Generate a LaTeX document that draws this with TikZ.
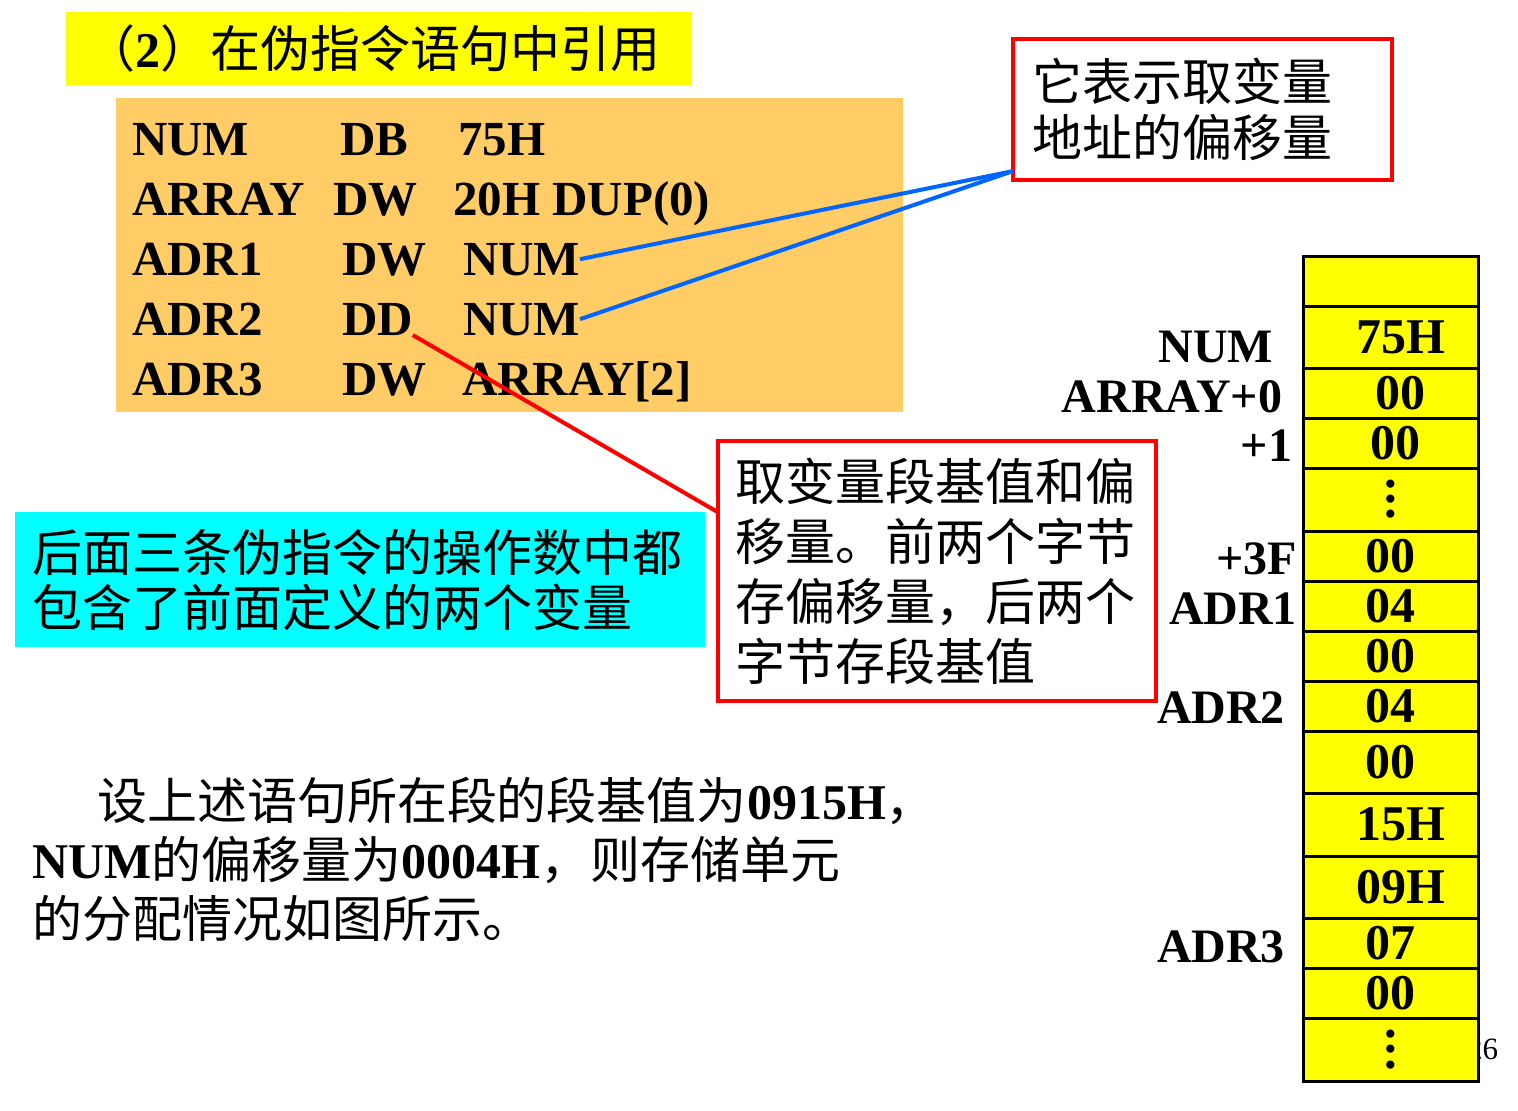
\documentclass[tikz,border=0pt]{standalone}
\usepackage{fontspec}
\usepackage{graphicx}
\setmainfont{Liberation Serif}
\newfontfamily\cjk{Noto Sans CJK SC}
\usetikzlibrary{positioning}

\definecolor{hiyellow}{RGB}{255,255,0}
\definecolor{codeorange}{RGB}{255,204,102}
\definecolor{hintcyan}{RGB}{0,255,255}
\definecolor{linkblue}{RGB}{0,102,255}

\newcommand\lat[1]{{\rmfamily\bfseries #1}}
\newcommand\celldots{\scalebox{3.6}{\fontsize{14}{14}\selectfont
    \vbox{\baselineskip4.2pt\lineskiplimit-5pt\hbox{.}\hbox{.}\hbox{.}}}}

\begin{document}
\begin{tikzpicture}[x=1pt,y=-1pt,
                    every node/.style={inner sep=0pt,outer sep=0pt},
                    code/.style={anchor=base west,font=\fontsize{49}{49}\selectfont\bfseries},
                    addr/.style={anchor=base east,font=\fontsize{48}{48}\selectfont\bfseries},
                    cell/.style={draw,line width=3pt,fill=hiyellow,minimum width=175pt,
                                 font=\fontsize{50}{50}\selectfont\bfseries},
                    note/.style={draw=red,line width=4pt,align=left},
                    link/.style={line width=4pt,linkblue}]

    \useasboundingbox (0,0) rectangle (1518,1111);

    % heading
    \node[fill=hiyellow,minimum height=73pt,text width=588pt,inner xsep=19pt,align=left,
          font=\cjk\fontsize{50}{50}\selectfont] (title) at (379,48.5) {（\lat{2}）在伪指令语句中引用};

    % source lines
    \node[fill=codeorange,anchor=north west,minimum width=787pt,minimum height=314pt] (codebox) at (116,98) {};
    \node[code] (lbl1) at (132,155) {NUM};
    \node[code] (op1)  at (340,155) {DB};
    \node[code] (arg1) at (458,155) {75H};
    \node[code] (lbl2) at (132,215) {ARRAY};
    \node[code] (op2)  at (333,215) {DW};
    \node[code] (arg2) at (453,215) {20H DUP(0)};
    \node[code] (lbl3) at (132,275) {ADR1};
    \node[code] (op3)  at (342,275) {DW};
    \node[code] (arg3) at (463,275) {NUM};
    \node[code] (lbl4) at (132,335) {ADR2};
    \node[code] (op4)  at (342,335) {DD};
    \node[code] (arg4) at (463,335) {NUM};
    \node[code] (lbl5) at (132,395) {ADR3};
    \node[code] (op5)  at (342,395) {DW};
    \node[code] (arg5) at (462,395) {ARRAY[2]};

    % remarks
    \node[fill=hintcyan,minimum height=135pt,text width=656pt,inner xsep=17pt,align=left,
          font=\cjk\fontsize{50}{55}\selectfont] (hint) at (360,579.5)
          {后面三条伪指令的操作数中都\\包含了前面定义的两个变量};
    \node[note,minimum height=141pt,text width=341pt,inner xsep=19pt,
          font=\cjk\fontsize{50}{56}\selectfont] (offs) at (1202.5,109.5)
          {它表示取变量\\地址的偏移量};
    \node[note,minimum height=260pt,text width=404pt,inner xsep=17pt,
          font=\cjk\fontsize{50}{60}\selectfont] (seg) at (937,571)
          {取变量段基值和偏\\移量。前两个字节\\存偏移量，后两个\\字节存段基值};
    \node[anchor=west,align=left,font=\cjk\fontsize{50}{59}\selectfont] (desc) at (32,859)
          {\hspace*{65pt}设上述语句所在段的段基值为\lat{0915H}，\\
           \lat{NUM}的偏移量为\lat{0004H}，则存储单元\\
           的分配情况如图所示。};

    \node[anchor=base east,font=\fontsize{31}{31}\selectfont] (pgno) at (1498,1059) {26};

    % memory
    \node[cell,anchor=north west,minimum height=50pt] (m0) at (1303,256) {};
    \node[cell,minimum height=62pt,below=0pt of m0]  (m1)  {\hspace{20pt}75H};
    \node[cell,minimum height=50pt,below=0pt of m1]  (m2)  {\hspace{20pt}00};
    \node[cell,minimum height=50pt,below=0pt of m2]  (m3)  {\hspace{10pt}00};
    \node[cell,minimum height=63pt,below=0pt of m3]  (m4)  {\celldots\hspace{10pt}};
    \node[cell,minimum height=50pt,below=0pt of m4]  (m5)  {00};
    \node[cell,minimum height=50pt,below=0pt of m5]  (m6)  {04};
    \node[cell,minimum height=50pt,below=0pt of m6]  (m7)  {00};
    \node[cell,minimum height=50pt,below=0pt of m7]  (m8)  {04};
    \node[cell,minimum height=62pt,below=0pt of m8]  (m9)  {00};
    \node[cell,minimum height=63pt,below=0pt of m9]  (m10) {\hspace{20pt}15H};
    \node[cell,minimum height=62pt,below=0pt of m10] (m11) {\hspace{20pt}09H};
    \node[cell,minimum height=50pt,below=0pt of m11] (m12) {07};
    \node[cell,minimum height=50pt,below=0pt of m12] (m13) {00};
    \node[cell,minimum height=63pt,below=0pt of m13] (m14) {\celldots\hspace{6pt}};

    \node[addr] (aNUM)  at (1273,362) {NUM};
    \node[addr] (aARR)  at (1282,412) {ARRAY+0};
    \node[addr] (aP1)   at (1292,461) {+1};
    \node[addr] (aP3F)  at (1297,574) {+3F};
    \node[addr] (aADR1) at (1297,624) {ADR1};
    \node[addr] (aADR2) at (1285,723) {ADR2};
    \node[addr] (aADR3) at (1285,962) {ADR3};

    % pointers
    \draw[link] (arg3.east) -- (offs.198);
    \draw[link] (arg4.east) -- (offs.198);
    \draw[red,line width=4pt] (op4.south east) -- (seg.165);
\end{tikzpicture}
\end{document}
